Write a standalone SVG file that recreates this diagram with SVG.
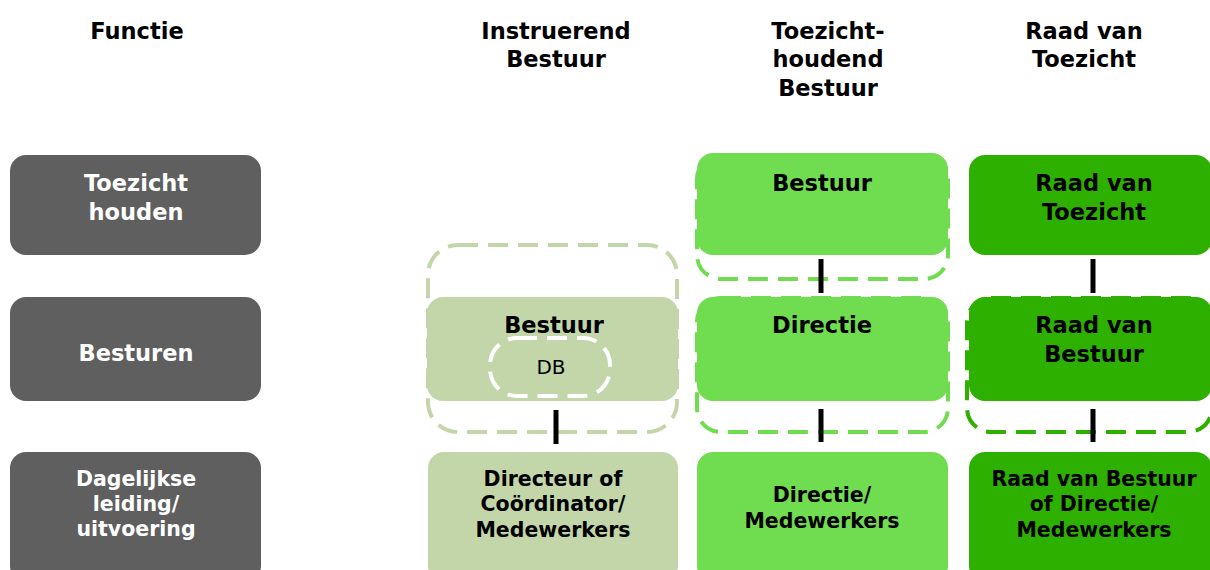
<svg xmlns="http://www.w3.org/2000/svg" width="1210" height="570" viewBox="0 0 1210 570">
<style>
.h{font-family:"DejaVu Sans",Verdana,sans-serif;font-weight:bold;font-size:22.5px;fill:#000;text-anchor:middle}
.w{font-family:"DejaVu Sans",Verdana,sans-serif;font-weight:bold;font-size:22.5px;fill:#fff;text-anchor:middle}
.s{font-family:"DejaVu Sans",Verdana,sans-serif;font-weight:bold;font-size:20.5px;fill:#000;text-anchor:middle}
.sw{font-family:"DejaVu Sans",Verdana,sans-serif;font-weight:bold;font-size:20.5px;fill:#fff;text-anchor:middle}
.n{font-family:"DejaVu Sans",Verdana,sans-serif;font-size:20px;fill:#000;text-anchor:middle}
.gray{fill:#5f5f5f}
.sage{fill:#c2d6aa}
.lime{fill:#70dc50}
.dark{fill:#2db000}
.dash{fill:none;stroke-width:4;stroke-dasharray:20 10}
.conn{stroke:#000;stroke-width:5}
</style>
<rect width="1210" height="570" fill="#fff"/>
<g id="headers">
<text class="h" x="137" y="39">Functie</text>
<text class="h" x="556" y="39">Instruerend</text>
<text class="h" x="556" y="67">Bestuur</text>
<text class="h" x="828" y="39">Toezicht-</text>
<text class="h" x="828" y="67">houdend</text>
<text class="h" x="828" y="96">Bestuur</text>
<text class="h" x="1084" y="39">Raad van</text>
<text class="h" x="1084" y="67">Toezicht</text>
</g>
<g id="f-toezicht">
<rect class="gray" x="10" y="155" width="251" height="100" rx="16"/>
<text class="w" x="136" y="191">Toezicht</text>
<text class="w" x="136" y="220">houden</text>
</g>
<g id="f-besturen">
<rect class="gray" x="10" y="297" width="251" height="104" rx="16"/>
<text class="w" x="136" y="361">Besturen</text>
</g>
<g id="f-dagelijks">
<rect class="gray" x="10" y="452" width="251" height="130" rx="16"/>
<text class="sw" x="136" y="486">Dagelijkse</text>
<text class="sw" x="136" y="511">leiding/</text>
<text class="sw" x="136" y="536">uitvoering</text>
</g>
<g id="ib-group">
<rect class="dash" x="428" y="245" width="249" height="187" rx="30" stroke="#c2d6aa"/>
</g>
<g id="ib-bestuur">
<rect class="sage" x="427" y="297" width="251" height="104" rx="16"/>
<text class="h" x="554" y="333">Bestuur</text>
</g>
<g id="ib-db">
<rect class="dash" x="490" y="338" width="120" height="58" rx="27" stroke="#fff" stroke-width="5"/>
<text class="n" x="551" y="374">DB</text>
</g>
<g id="ib-dir">
<rect class="sage" x="428" y="452" width="250" height="130" rx="16"/>
<text class="s" x="553" y="486">Directeur of</text>
<text class="s" x="553" y="511">Coördinator/</text>
<text class="s" x="553" y="537">Medewerkers</text>
</g>
<g id="tb-bestuur">
<rect class="dash" x="697" y="155" width="251" height="124" rx="24" stroke="#70dc50"/>
<rect class="lime" x="697" y="153" width="251" height="102" rx="16"/>
<text class="h" x="822" y="191">Bestuur</text>
</g>
<g id="tb-directie">
<rect class="dash" x="697" y="298" width="251" height="134" rx="24" stroke="#70dc50"/>
<rect class="lime" x="697" y="297" width="251" height="104" rx="16"/>
<text class="h" x="822" y="333">Directie</text>
</g>
<g id="tb-dir">
<rect class="lime" x="697" y="452" width="251" height="130" rx="16"/>
<text class="s" x="822" y="502">Directie/</text>
<text class="s" x="822" y="528">Medewerkers</text>
</g>
<g id="rvt">
<rect class="dark" x="969" y="155" width="243" height="100" rx="16"/>
<text class="h" x="1094" y="191">Raad van</text>
<text class="h" x="1094" y="220">Toezicht</text>
</g>
<g id="rvb">
<rect class="dash" x="967" y="298" width="245" height="134" rx="24" stroke="#2db000"/>
<rect class="dark" x="969" y="297" width="243" height="104" rx="16"/>
<text class="h" x="1094" y="333">Raad van</text>
<text class="h" x="1094" y="362">Bestuur</text>
</g>
<g id="rvb-dir">
<rect class="dark" x="969" y="452" width="243" height="130" rx="16"/>
<text class="s" x="1094" y="486">Raad van Bestuur</text>
<text class="s" x="1094" y="511">of Directie/</text>
<text class="s" x="1094" y="537">Medewerkers</text>
</g>
<g id="connectors">
<line class="conn" x1="556" y1="410" x2="556" y2="444"/>
<line class="conn" x1="821" y1="259" x2="821" y2="293"/>
<line class="conn" x1="821" y1="409" x2="821" y2="442"/>
<line class="conn" x1="1093" y1="259" x2="1093" y2="293"/>
<line class="conn" x1="1093" y1="409" x2="1093" y2="442"/>
</g>
</svg>
